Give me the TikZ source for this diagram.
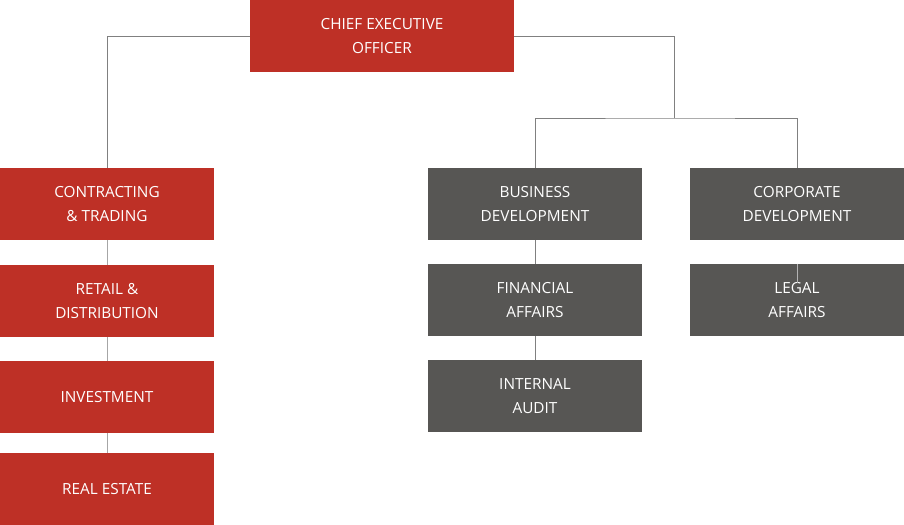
\documentclass[tikz,border=0pt]{standalone}
\usepackage{fontspec}
\setmainfont{Open Sans}
\usepackage{xcolor}
\usepackage{tikz}
\usetikzlibrary{calc}
\usetikzlibrary{positioning}
\definecolor{chartred}{RGB}{190,48,38}
\definecolor{chartgray}{RGB}{87,86,84}
\definecolor{linkgray}{RGB}{128,128,128}

\begin{document}
\begin{tikzpicture}[x=0.75pt, y=-0.75pt,
  every node/.style={font=\fontsize{11.5}{18}\selectfont},
  unit/.style={minimum width=160.5pt, minimum height=54pt, inner sep=0pt,
    text=white, align=center},
  redunit/.style={unit, fill=chartred},
  grayunit/.style={unit, fill=chartgray},
  link/.style={draw=linkgray, line width=0.75pt}]

\useasboundingbox (0,0) rectangle (904,525);

% top
\node[unit, fill=chartred, minimum width=198pt] (ceo) at (382,36) {CHIEF EXECUTIVE\\OFFICER};

% left column
\node[redunit] (ct) at (107,204) {CONTRACTING\\\& TRADING};
\node[redunit] (rd) at (107,301) {RETAIL \&\\DISTRIBUTION};
\node[redunit] (inv) at (107,397) {INVESTMENT};
\node[redunit] (re) at (107,489) {REAL ESTATE};

% middle column
\node[grayunit] (bd) at (535,204) {BUSINESS\\DEVELOPMENT};
\node[grayunit] (fa) at (535,300) {FINANCIAL\\AFFAIRS};
\node[grayunit] (ia) at (535,396) {INTERNAL\\AUDIT};

% right column
\node[grayunit] (cd) at (797,204) {CORPORATE\\DEVELOPMENT};
\node[grayunit] (la) at (797,300) {LEGAL\\AFFAIRS};

\coordinate (split) at (674,118);
\coordinate (latick) at (797,283);

\draw[link] (ceo.west) -| (ct.north);
\draw[link] (ceo.east) -| (split);
\draw[link] (bd.north) |- (split) -| (cd.north);

\draw[link, draw=linkgray!70] (ct) -- (rd);
\draw[link, draw=linkgray!70] (rd) -- (inv);
\draw[link, draw=linkgray!70] (inv) -- (re);
\draw[link] (bd) -- (fa);
\draw[link] (fa) -- (ia);
\draw[link, draw=linkgray!60] (la.north) -- (latick);

\end{tikzpicture}
\end{document}
